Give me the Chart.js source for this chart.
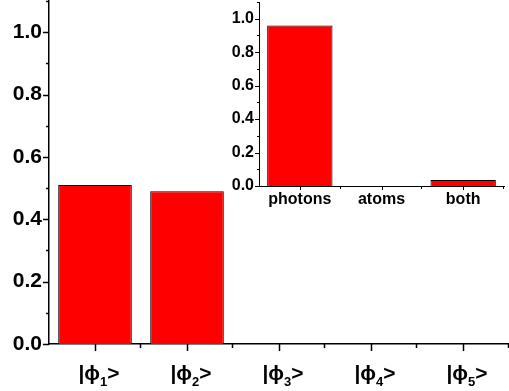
<!DOCTYPE html>
<html lang="en">
    <head>
        <meta charset="UTF-8" />
        <title>state populations</title>
        <script src="https://cdn.jsdelivr.net/npm/chart.js@4"></script>
        <style>
            * {
                padding: 0;
                margin: 0;
                box-sizing: border-box;
            }

            body {
                background-color: #fff;
                width: 509px;
                height: 391px;
                overflow: hidden;
            }

            .wrap {
                position: relative;
                width: 509px;
                height: 391px;
            }

            #mainChart {
                position: absolute;
                left: 0;
                top: 0;
            }

            #insetChart {
                position: absolute;
                left: 215px;
                top: 0;
            }
        </style>
    </head>
    <body>
        <div class="wrap">
            <canvas id="mainChart" width="509" height="391"></canvas>
            <canvas id="insetChart" width="294" height="220"></canvas>
        </div>

        <script>
            // main panel: |phi_n> states
            const stateIndex = ["1", "2", "3", "4", "5"];
            const stateValues = [0.51, 0.49, 0, 0, 0];
            const mainYTicks = [0, 0.2, 0.4, 0.6, 0.8, 1.0];

            // inset panel
            const insetCategories = ["photons", "atoms", "both"];
            const insetValues = [0.96, 0, 0.036];
            const insetYTicks = [0, 0.2, 0.4, 0.6, 0.8, 1.0];

            const FONT = "'Liberation Sans', Arial, sans-serif";

            // origin-style tick marks: major + minor, pointing outwards
            const tickMarks = {
                id: "tickMarks",
                afterDraw(chart, args, opts) {
                    const ctx = chart.ctx;
                    const xs = chart.scales.x;
                    const ys = chart.scales.y;
                    ctx.save();
                    ctx.strokeStyle = "#000";
                    ctx.lineWidth = opts.lineWidth;
                    ctx.beginPath();
                    for (let k = 0; k <= 11; k++) {
                        const py = Math.round(ys.getPixelForValue(k / 10)) + 0.5;
                        const len = k % 2 === 0 ? opts.yMajor : opts.yMinor;
                        ctx.moveTo(ys.right - len, py);
                        ctx.lineTo(ys.right, py);
                    }
                    const n = xs.getLabels().length;
                    const w = (xs.right - xs.left) / n;
                    for (let i = 0; i < n; i++) {
                        const px = Math.round(xs.getPixelForValue(i)) + 0.5;
                        ctx.moveTo(px, xs.top);
                        ctx.lineTo(px, xs.top + opts.xMajor);
                    }
                    for (let j = 1; j <= n; j++) {
                        const px = Math.round(xs.left + j * w) - 0.5;
                        ctx.moveTo(px, xs.top);
                        ctx.lineTo(px, xs.top + opts.xMinor);
                    }
                    ctx.stroke();
                    ctx.restore();
                },
            };

            // |phi_n> labels with a subscript
            const ketLabels = {
                id: "ketLabels",
                afterDraw(chart) {
                    const ctx = chart.ctx;
                    const xs = chart.scales.x;
                    const big = "bold 21px " + FONT;
                    const small = "bold 13px " + FONT;
                    const base = xs.top + 36;
                    ctx.save();
                    ctx.fillStyle = "#000";
                    ctx.textBaseline = "alphabetic";
                    stateIndex.forEach(function (sub, i) {
                        ctx.font = big;
                        const w1 = ctx.measureText("|\u03d5").width;
                        const w3 = ctx.measureText(">").width;
                        ctx.font = small;
                        const w2 = ctx.measureText(sub).width;
                        let x = xs.getPixelForValue(i) - (w1 + w2 + w3) / 2 + 4;
                        ctx.font = big;
                        ctx.fillText("|\u03d5", x, base);
                        x += w1;
                        ctx.font = small;
                        ctx.fillText(sub, x, base + 6);
                        x += w2;
                        ctx.font = big;
                        ctx.fillText(">", x, base);
                    });
                    ctx.restore();
                },
            };

            function tickCallback(list) {
                return function (value) {
                    const hit = list.find(function (t) {
                        return Math.abs(t - value) < 1e-6;
                    });
                    return hit === undefined ? "" : hit.toFixed(1);
                };
            }

            new Chart(document.getElementById("mainChart"), {
                type: "bar",
                data: {
                    labels: stateIndex,
                    datasets: [
                        {
                            data: stateValues,
                            backgroundColor: "#FF0000",
                            borderColor: "#000",
                            borderWidth: 1,
                            categoryPercentage: 0.8,
                            barPercentage: 1,
                        },
                    ],
                },
                options: {
                    responsive: false,
                    animation: false,
                    layout: { padding: { top: 1, right: 0, left: 0, bottom: 0 } },
                    plugins: {
                        legend: { display: false },
                        tooltip: { enabled: false },
                        tickMarks: { lineWidth: 1.5, yMajor: 6, yMinor: 3, xMajor: 7, xMinor: 4 },
                    },
                    scales: {
                        x: {
                            grid: { display: false, drawTicks: false },
                            border: { display: true, color: "#000", width: 1.5 },
                            ticks: { display: false },
                            afterFit: function (s) {
                                s.height = 47;
                            },
                        },
                        y: {
                            min: 0,
                            max: 1.1,
                            grid: { display: false, drawTicks: false },
                            border: { display: true, color: "#000", width: 1.5 },
                            ticks: {
                                stepSize: 0.2,
                                includeBounds: false,
                                padding: 7,
                                color: "#000",
                                font: { family: FONT, size: 21, weight: "bold" },
                                callback: tickCallback(mainYTicks),
                            },
                            afterFit: function (s) {
                                s.width = 49;
                                s.paddingTop = 0;
                                s.paddingBottom = 0;
                            },
                        },
                    },
                },
                plugins: [tickMarks, ketLabels],
            });

            new Chart(document.getElementById("insetChart"), {
                type: "bar",
                data: {
                    labels: insetCategories,
                    datasets: [
                        {
                            data: insetValues,
                            backgroundColor: "#FF0000",
                            borderColor: "#000",
                            borderWidth: 1,
                            categoryPercentage: 0.8,
                            barPercentage: 1,
                        },
                    ],
                },
                options: {
                    responsive: false,
                    animation: false,
                    layout: { padding: { top: 2, right: 5, left: 0, bottom: 0 } },
                    plugins: {
                        legend: { display: false },
                        tooltip: { enabled: false },
                        tickMarks: { lineWidth: 1, yMajor: 4, yMinor: 2, xMajor: 4, xMinor: 3 },
                    },
                    scales: {
                        x: {
                            grid: { display: false, drawTicks: false },
                            border: { display: true, color: "#000", width: 1 },
                            ticks: {
                                padding: 4,
                                color: "#000",
                                maxRotation: 0,
                                font: { family: FONT, size: 16, weight: "bold" },
                            },
                            afterFit: function (s) {
                                s.height = 34;
                            },
                        },
                        y: {
                            min: 0,
                            max: 1.1,
                            grid: { display: false, drawTicks: false },
                            border: { display: true, color: "#000", width: 1 },
                            ticks: {
                                stepSize: 0.2,
                                includeBounds: false,
                                padding: 5,
                                color: "#000",
                                font: { family: FONT, size: 16, weight: "bold" },
                                callback: tickCallback(insetYTicks),
                            },
                            afterFit: function (s) {
                                s.width = 44;
                                s.paddingTop = 0;
                                s.paddingBottom = 0;
                            },
                        },
                    },
                },
                plugins: [tickMarks],
            });
        </script>
    </body>
</html>
